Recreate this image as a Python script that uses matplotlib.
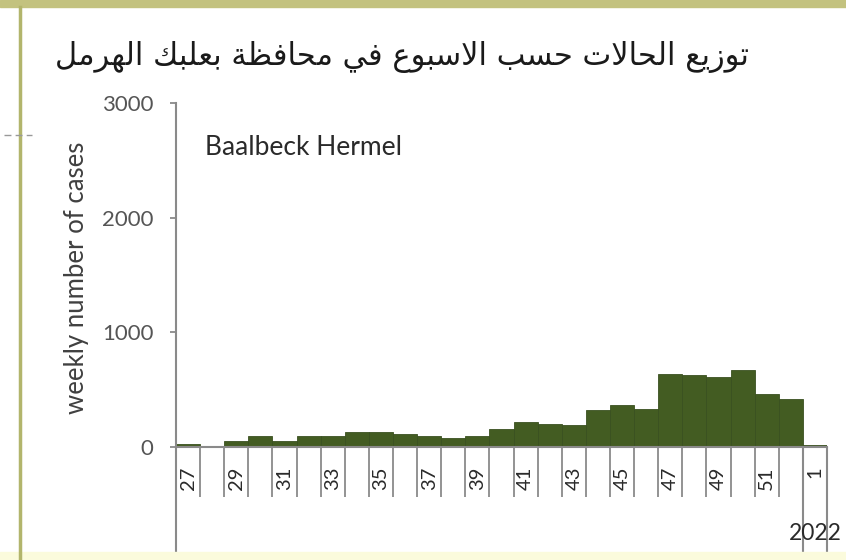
import matplotlib.pyplot as plt
import numpy as np

weeks = [27, 28, 29, 30, 31, 32, 33, 34, 35, 36, 37, 38, 39, 40,
         41, 42, 43, 44, 45, 46, 47, 48, 49, 50, 51, 52, 1]
cases = [30, 10, 50, 95, 55, 100, 100, 135, 135, 115, 95, 80, 95, 160,
         220, 200, 195, 320, 365, 335, 640, 630, 615, 675, 460, 415, 20]
yticks = [0, 1000, 2000, 3000]
title = 'توزيع الحالات حسب الاسبوع في محافظة بعلبك الهرمل'
region = 'Baalbeck Hermel'
year = '2022'

# small arabic shaper (presentation forms b), matplotlib has no shaping
DUAL = {'ب': 0xFE8F, 'ت': 0xFE95, 'ح': 0xFEA1, 'س': 0xFEB1, 'ظ': 0xFEC5,
        'ع': 0xFEC9, 'ف': 0xFED1, 'ك': 0xFED9, 'ل': 0xFEDD, 'م': 0xFEE1,
        'ه': 0xFEE9, 'ي': 0xFEF1}
RIGHT = {'ا': 0xFE8D, 'ة': 0xFE93, 'ر': 0xFEAD, 'ز': 0xFEAF, 'و': 0xFEED}


def shape(word):
    out = []
    i = 0
    prev = False
    while i < len(word):
        c = word[i]
        nxt = word[i + 1] if i + 1 < len(word) else None
        if c == 'ل' and nxt == 'ا':
            out.append(chr(0xFEFC if prev else 0xFEFB))
            prev = False
            i += 2
            continue
        if c in DUAL:
            joins = nxt is not None and (nxt in DUAL or nxt in RIGHT)
            code = DUAL[c] + (3 if prev and joins else 1 if prev else 2 if joins else 0)
            prev = joins
        elif c in RIGHT:
            code = RIGHT[c] + (1 if prev else 0)
            prev = False
        else:
            code = ord(c)
            prev = False
        out.append(chr(code))
        i += 1
    return ''.join(out)


def visual(text):
    return ' '.join(shape(w)[::-1] for w in text.split()[::-1])


plt.rcParams['font.family'] = ['Lato', 'DejaVu Sans']

fig = plt.figure(figsize=(8.46, 5.6), dpi=100)
ax = fig.add_axes([0.208, 0.2018, 0.7695, 0.614])

x = np.arange(len(weeks))
ax.bar(x, cases, width=1.0, color='#435c22', edgecolor='#3a5020', linewidth=0.6)

ax.set_xlim(-0.5, len(weeks) - 0.5)
ax.set_ylim(0, 3000)
ax.set_yticks(yticks)
ax.set_yticklabels([str(v) for v in yticks])

lab_idx = [i for i, w in enumerate(weeks) if w % 2 == 1]
ax.set_xticks(lab_idx)
ax.set_xticklabels([str(weeks[i]) for i in lab_idx], rotation=90)
ax.set_xticks(np.arange(-0.5, len(weeks)), minor=True)
ax.tick_params(axis='x', which='major', length=0, pad=14, labelsize=14.5, labelcolor='#2a2a2a')
ax.tick_params(axis='x', which='minor', length=36, width=1.3, color='#8a8a8a')
ax.tick_params(axis='y', length=4, width=1.3, color='#8a8a8a', pad=12,
               labelsize=16, labelcolor='#555555')

for s in ['top', 'right']:
    ax.spines[s].set_visible(False)
for s in ['left', 'bottom']:
    ax.spines[s].set_color('#8a8a8a')
    ax.spines[s].set_linewidth(1.5)

# long separators of the year level
yr_start = weeks.index(1)
ax.vlines([-0.5, yr_start - 0.5, len(weeks) - 0.5], -0.308, 0,
          transform=ax.get_xaxis_transform(), colors='#8a8a8a', linewidth=1.5,
          clip_on=False)
ax.text(yr_start, -0.253, year, transform=ax.get_xaxis_transform(),
        ha='center', va='center', fontsize=16.5, color='#2a2a2a')

ax.set_ylabel('weekly number of cases', fontsize=18.5, color='#404040')
ax.yaxis.set_label_coords(-0.134, 0.493)
ax.text(0.045, 0.872, region, transform=ax.transAxes, ha='left', va='center',
        fontsize=19, color='#2a2a2a')

fig.text(0.475, 0.898, visual(title), ha='center', va='center', fontsize=22,
         family='DejaVu Sans', color='#1a1a1a')

# frame of the slide
fig.patches.append(plt.Rectangle((0, 1 - 7 / 560), 1, 7 / 560, transform=fig.transFigure,
                                 color='#c3c27f', zorder=0))
fig.add_artist(plt.Line2D([20 / 846, 20 / 846], [0, 1 - 7 / 560], color='#b2b56c',
                          linewidth=2.5))
fig.patches.append(plt.Rectangle((0, 0), 1, 8 / 560, transform=fig.transFigure,
                                 color='#fbfbdc', zorder=0))
fig.add_artist(plt.Line2D([4 / 846, 32 / 846], [1 - 135 / 560, 1 - 135 / 560],
                          color='#999999', linewidth=1, linestyle=(0, (5, 3))))

fig.savefig('out.png', dpi=100)
